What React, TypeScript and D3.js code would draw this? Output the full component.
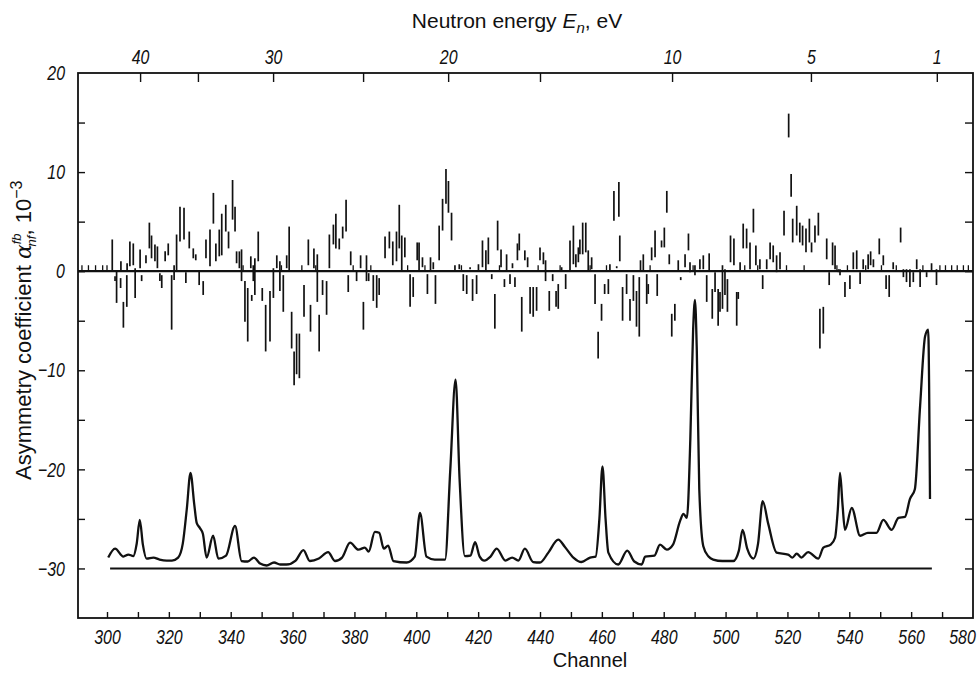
import React, { useEffect, useRef } from 'react';
import * as d3 from 'd3';

// asymmetry error bars: channel, low, high (units of 10^-3)
const asymmetryBars: [number, number, number][] = [
  [301.7, 0, 3.2], [302.6, -1.0, -0.5], [303.1, -3.2, 0], [304.4, -1.7, -0.7], [304.5, 0.1, 1.0],
  [305.3, -5.7, -3.1], [306.4, -3.6, -0.4], [306.5, 0.1, 0.8], [307.4, 0.5, 3.0], [308.5, 0.6, 2.8],
  [309.1, -2.7, 0.3], [310.7, 0.3, 2.2], [311.2, -1.0, -0.4], [312.6, 0.8, 1.6], [313.7, 2.3, 4.9],
  [314.4, 1.3, 3.6], [315.5, 1.0, 2.7], [316.3, 0.3, 2.5], [317.1, -1.0, -0.2], [317.7, -1.7, -0.4],
  [318.8, 1.0, 2.0], [319.8, 1.6, 2.8], [320.9, -5.9, -0.4], [321.7, -0.9, 0.6], [322.5, 0, 3.7],
  [323.6, 3.0, 6.5], [324.9, 3.2, 6.4], [325.5, -1.2, -0.1], [326.6, 2.3, 4.0], [327.9, 1.3, 2.3],
  [328.7, 1.1, 1.7], [329.8, -1.4, 0], [331.1, -2.4, -1.0], [332.0, 1.3, 3.2], [333.3, 0.5, 4.2],
  [334.4, 4.8, 7.9], [335.2, 1.0, 2.8], [336.3, 1.5, 4.2], [337.1, 1.6, 5.8], [338.4, 4.0, 6.7],
  [339.3, 2.3, 4.0], [340.6, 5.2, 9.2], [341.4, 4.0, 6.5], [341.9, 0.8, 2.0], [342.8, 0.3, 2.0],
  [343.5, -1.0, 2.2], [344.6, -5.1, -1.0], [345.5, -7.1, -1.7], [346.5, 0.3, 1.5], [346.8, -3.0, -2.4],
  [347.3, -1.0, 0.6], [347.8, -2.4, 1.3], [348.9, 1.0, 4.0], [350.2, -3.0, -1.7], [351.3, -8.1, -3.4],
  [352.7, -7.1, -2.0], [353.8, -2.7, 0.3], [354.9, 0.3, 1.6], [355.9, -2.0, 1.0], [357.0, -4.1, -0.4],
  [358.1, 0.3, 1.6], [358.9, 0, 4.5], [359.7, -7.8, -4.1], [360.5, -11.5, -8.1], [361.3, -10.4, -6.3],
  [362.2, -10.8, -6.3], [363.7, -4.6, -1.4], [365.1, 0.6, 3.2], [365.8, -6.1, -3.4], [366.9, 0.3, 2.3],
  [368.0, -3.1, 1.7], [368.6, -8.1, -4.4], [369.7, -2.4, -0.9], [371.0, -4.4, -1.0], [371.9, 0.3, 3.7],
  [373.2, 2.7, 4.7], [374.0, 2.3, 5.8], [375.1, 2.2, 3.3], [376.2, 3.3, 4.5], [377.3, 4.0, 7.2],
  [378.0, -2.1, -0.4], [378.8, 0.6, 2.0], [380.7, -1.0, 0], [382.0, 0.3, 1.6], [382.9, -5.9, -3.1],
  [383.9, -1.0, 1.6], [384.6, -1.0, -0.2], [386.1, -3.0, -0.4], [387.2, -3.7, -0.4], [388.0, -2.4, -0.7],
  [389.9, 1.3, 3.5], [391.3, 2.3, 4.0], [392.4, 0.6, 3.0], [393.6, 1.0, 4.0], [394.5, 2.3, 6.7],
  [395.3, 0, 3.6], [396.3, 1.4, 3.4], [398.0, -3.6, -0.3], [399.0, -2.6, -0.6], [400.3, 1.1, 2.9],
  [400.9, 0.1, 2.9], [402.0, 0.4, 1.4], [403.6, -2.3, -0.3], [404.6, 0.1, 1.4], [405.5, 0.2, 0.9],
  [406.2, -3.3, -0.4], [407.4, 1.1, 4.6], [408.5, 4.1, 7.3], [409.6, 6.8, 10.3], [410.4, 5.9, 9.1],
  [411.4, 3.1, 5.9], [412.5, 0.1, 0.6], [413.9, 0.2, 0.7], [415.2, -2.0, -0.3], [416.3, -2.3, -0.4],
  [417.4, 0.2, 0.4], [418.2, -3.0, -0.8], [419.5, -2.3, -0.4], [420.1, 0.1, 0.7], [421.4, 0.4, 3.1],
  [422.5, 0.1, 2.1], [423.3, 0.7, 3.4], [424.4, -0.8, -0.3], [425.4, -5.8, -2.3], [426.3, 2.1, 5.1],
  [427.4, 0.4, 2.2], [428.5, -1.6, -0.8], [429.2, 0.1, 1.7], [430.3, -1.3, -0.3], [431.1, 0.3, 0.8],
  [431.9, -1.6, -0.6], [432.7, 1.1, 2.8], [433.3, 2.1, 3.8], [434.1, -6.1, -2.6], [435.1, 1.1, 2.1],
  [436.0, 0.4, 1.4], [436.8, -4.3, -1.6], [437.8, -4.6, -1.6], [438.9, -4.0, -1.6], [440.0, 1.1, 2.4],
  [441.1, 0.7, 1.9], [441.8, -1.0, 1.1], [443.0, -4.0, -2.0], [444.1, -1.0, -0.3], [445.2, -3.6, -2.0],
  [445.9, -3.8, -1.3], [447.0, 0.1, 0.4], [448.3, -1.8, -0.3], [449.7, 0, 3.1], [450.8, 0.7, 4.6],
  [451.6, 0.4, 1.7], [452.4, 0.9, 2.4], [452.9, 1.7, 3.2], [453.8, 1.7, 4.9], [454.8, 1.9, 4.9],
  [455.6, 0.1, 2.1], [456.7, 0.2, 1.4], [457.8, -3.3, -0.3], [458.8, -8.8, -6.1], [459.9, -5.0, -3.3],
  [460.9, -2.3, -1.3], [462.1, -2.3, -0.8], [462.6, 0.1, 0.7], [463.9, 5.1, 8.1], [464.8, 0.3, 0.5],
  [465.5, 5.5, 9.0], [465.8, 1.0, 3.6], [466.7, -5.0, -1.6], [468.0, -2.3, -0.3], [469.1, -5.0, -2.8],
  [470.2, -3.0, -0.4], [471.2, -5.6, -2.0], [472.1, -6.6, -0.6], [472.5, 0.1, 1.1], [473.4, 0.1, 1.7],
  [474.5, -3.3, -0.3], [475.0, -2.3, -1.3], [476.1, 1.1, 2.4], [477.2, 1.4, 4.1], [477.9, -2.5, -0.3],
  [479.3, 2.4, 3.1], [480.2, 2.4, 4.4], [481.0, 5.9, 8.1], [481.8, 0.7, 1.7], [482.6, -6.6, -4.3],
  [483.6, -5.0, -3.3], [484.7, 0.1, 1.1], [485.5, -0.9, -0.6], [486.9, 0.4, 1.7], [488.0, 2.1, 3.8],
  [488.5, -0.1, 0.9], [490.1, -0.4, 0.6], [491.7, 0.2, 1.2], [492.8, 0.2, 1.6], [493.9, -3.1, -0.4],
  [494.7, 0.1, 1.8], [495.7, -4.8, -1.8], [496.6, -2.1, -0.1], [497.6, -5.5, -1.8], [498.2, -4.1, -2.1],
  [499.0, -3.8, 0.6], [499.8, -2.4, 0.2], [500.6, -4.1, -0.8], [501.6, 0.9, 3.6], [502.7, 0.6, 3.3],
  [503.6, -5.5, -2.1], [504.1, -2.8, -2.1], [504.7, 0.1, 0.9], [505.7, 2.3, 4.8], [506.8, 2.3, 4.3],
  [507.9, 0.2, 2.9], [509.0, 3.9, 6.3], [509.8, 0.6, 2.6], [511.1, 0.2, 1.2], [512.0, -1.8, -0.4],
  [513.3, 0.2, 1.2], [514.4, 1.2, 2.9], [515.4, 0.9, 2.6], [516.5, -0.1, 1.6], [517.6, 0.2, 1.9],
  [518.9, 3.6, 6.1], [520.4, 13.5, 15.9], [521.2, 7.5, 9.8], [521.7, 2.9, 5.3], [523.0, 3.6, 6.6],
  [524.0, 2.9, 4.9], [524.9, 2.6, 4.6], [526.0, 1.9, 4.3], [527.1, 2.9, 5.3], [527.8, 1.9, 2.9],
  [528.9, 2.9, 4.6], [530.0, 3.6, 5.9], [530.5, -7.8, -3.8], [531.6, -6.3, -3.6], [532.7, 1.2, 3.3],
  [533.5, -1.4, -0.1], [534.6, 0.6, 2.9], [535.4, 0.2, 2.6], [536.5, -0.1, 0.2], [537.0, -0.4, 0.2],
  [538.6, -2.6, -1.1], [540.2, -1.8, -0.4], [541.3, 0.2, 1.9], [542.4, 0.2, 2.1], [543.5, -1.3, -0.1],
  [544.5, 0.2, 1.2], [546.1, 0.2, 1.7], [546.9, 0.6, 2.0], [547.8, 0.4, 1.2], [549.7, 1.7, 3.3],
  [551.0, 0.6, 1.6], [551.9, -1.8, -0.4], [552.9, -2.6, -0.4], [554.2, 0.2, 0.9], [556.6, 2.9, 4.4],
  [557.5, -0.6, 0.2], [558.5, -1.1, 0.2], [559.6, -1.6, 0.2], [560.7, -1.1, -0.1], [561.8, 0.2, 1.2],
  [562.9, -1.6, 0.2], [565.0, -0.6, -0.1], [566.6, 0.1, 0.8], [568.2, -1.4, 0.2],
];

// channels with only a tiny bar sitting on the zero line
const quietChannels = [
  291.9, 294.0, 296.3, 298.6, 300.0, 344.0, 356.4, 363.0, 367.5, 379.6, 385.3, 397.2, 402.8, 414.6,
  426.9, 439.4, 446.5, 456.2, 461.5, 475.6, 489.5, 506.2, 510.4, 519.7, 525.4, 536.0, 539.4, 545.3,
  550.4, 555.2, 563.8, 569.3, 571.1, 573.1, 574.9, 576.9, 578.5,
];

// count-rate spectrum drawn underneath (same y units)
const spectrumChannels = [
  300.4, 302.6, 305.3, 306.9, 308.5, 309.6, 310.6, 311.6, 312.8, 315, 317, 319.3, 321, 323, 324.5,
  325.8, 327.0, 328.2, 329, 330, 331, 332.2, 334.3, 336, 338.5, 341.4, 343.5, 345.5, 347.5, 349.5,
  351.6, 354, 356, 358, 361, 363.5, 365.6, 368.5, 371.5, 373.7, 376, 378.6, 381.3, 383.4, 384.6,
  386.6, 388, 389.5, 390.9, 392.6, 396.9, 399.5, 401.2, 403.3, 406, 409.3, 411, 412.7, 414, 415.7,
  417.5, 419, 420.5, 422, 424, 426, 428.8, 431, 433, 435.1, 437.8, 440, 442.7, 445.9, 448, 450.8,
  453.4, 456.2, 458, 459.2, 460.2, 461.2, 462.1, 465.3, 468.2, 470.5, 472.9, 474, 477, 478.8, 481,
  483, 485.3, 486.4, 487.5, 488.6, 489.5, 490.1, 490.7, 491.5, 492.8, 494.5, 496, 499, 502.5, 504.3,
  505.5, 507, 509, 510.5, 512, 513.8, 516.5, 520.2, 521.6, 523, 524.5, 526.7, 530, 531.6, 534,
  535.4, 536.3, 537, 537.8, 538.6, 540.8, 543.5, 546, 548.8, 551, 553.7, 555.9, 558, 559.6, 561.2,
  562.9, 564.5, 565.5, 566.1,
];
const spectrumValues = [
  -28.9, -28.0, -28.8, -28.6, -28.75, -27.5, -25.1, -27.6, -29.0, -28.9, -29.1, -29.2, -29.2, -28.9, -27.5,
  -24, -20.35, -23.5, -25.4, -25.9, -26.5, -28.9, -26.7, -29.0, -28.7, -25.7, -29.25, -29.3, -28.9, -29.5,
  -29.7, -29.4, -29.6, -29.6, -29.2, -28.15, -29.25, -29.0, -28.35, -29.25, -28.9, -27.4, -28.1, -27.9, -28.3,
  -26.3, -26.4, -28.0, -27.7, -29.25, -29.4, -28.8, -24.4, -28.8, -29.1, -29.1, -20, -10.95, -21, -28.75,
  -28.7, -27.35, -28.8, -29.2, -28.8, -28.0, -29.2, -28.9, -29.2, -28.0, -29.35, -29.4, -28.4, -27.1, -27.8, -28.9,
  -29.35, -28.9, -28.8, -25, -19.7, -25, -28.4, -29.6, -28.2, -29.3, -29.6, -28.8, -28.7, -27.6, -28.1,
  -27.6, -25.2, -24.5, -24.9, -17, -6, -2.9, -8, -22, -27.75, -28.8, -29.1, -29.25, -29.25, -28.2,
  -26.1, -28.0, -29.0, -27.5, -23.2, -25.5, -28.4, -28.6, -28.9, -28.5, -28.9, -28.35, -29.0, -27.9, -27.6,
  -26.9, -24, -20.35, -23.5, -26.1, -23.9, -26.7, -26.4, -26.4, -25.1, -26.1, -24.9, -24.8, -23.0, -22.0,
  -13.6, -6.6, -5.9, -23.0,
];

// straight reference level under the spectrum
const referenceLevel = -30;
const referenceChannels = [301, 566.7];

// upper axis: neutron energy (eV) and the channel it falls on
const energyValues = [40, 35, 30, 25, 20, 15, 10, 5, 1];
const energyChannels = [310.7, 329.4, 353.7, 382.8, 410.3, 440, 482.7, 527.6, 568.3];
const energyLabels = [40, 30, 20, 10, 5, 1];

const channelLabels = [300, 320, 340, 360, 380, 400, 420, 440, 460, 480, 500, 520, 540, 560, 580];
const asymmetryLabels = [20, 10, 0, -10, -20, -30];

const width = 978;
const height = 676;
const frame = { left: 78, right: 973, top: 73, bottom: 618 };
const tickFont = "'Liberation Sans', Arial, sans-serif";
const titleFont = "'Liberation Sans', Arial, sans-serif";
const ink = '#111';

export default function App() {
  const svgRef = useRef<SVGSVGElement>(null);

  useEffect(() => {
    const svg = d3.select(svgRef.current);
    svg.selectAll('*').remove();

    const x = d3.scaleLinear().domain([300, 580]).range([107, frame.right]);
    const y = d3.scaleLinear().domain([20, -35]).range([frame.top, frame.bottom]);
    const energy = d3.scaleLinear().domain(energyValues).range(energyChannels.map((c) => x(c)));

    const styleAxis = (g) => {
      g.select('.domain').remove();
      g.selectAll('line').attr('stroke', ink).attr('stroke-width', 1.4);
      g.selectAll('text')
        .attr('fill', ink)
        .attr('font-family', tickFont)
        .attr('font-size', 21)
        .attr('font-weight', 300)
        .attr('font-style', 'italic');
    };
    // narrow, drafting-style numerals
    const squeeze = (g, shift = 0) => {
      g.selectAll('text').each(function () {
        const t = d3.select(this);
        const tx = +(t.attr('x') || 0) + shift;
        t.attr('x', null).attr('transform', `translate(${tx},0) scale(0.76,1)`);
      });
    };

    // ticks, all pointing into the frame
    svg.append('g')
      .attr('transform', `translate(0,${frame.bottom})`)
      .call(d3.axisBottom(x).tickValues(d3.range(300, 580, 10)).tickSizeInner(-6).tickSizeOuter(0).tickFormat(() => ''))
      .call(styleAxis);
    const bottomLabels = svg.append('g')
      .attr('transform', `translate(0,${frame.bottom})`)
      .call(d3.axisBottom(x).tickValues(channelLabels).tickSize(0).tickPadding(11))
      .call(styleAxis)
      .call((g) => squeeze(g));
    bottomLabels.selectAll('.tick')
      .filter((d) => d === 580)
      .select('text')
      .attr('transform', 'translate(-11,0) scale(0.76,1)');

    svg.append('g')
      .attr('transform', `translate(0,${frame.top})`)
      .call(d3.axisTop(energy).tickValues(energyValues).tickSizeInner(-9).tickSizeOuter(0).tickFormat(() => ''))
      .call(styleAxis);
    svg.append('g')
      .attr('transform', `translate(0,${frame.top})`)
      .call(d3.axisTop(energy).tickValues(energyLabels).tickSize(0).tickPadding(9))
      .call(styleAxis)
      .call((g) => squeeze(g));

    const yTicks = d3.range(-30, 20, 5);
    svg.append('g')
      .attr('transform', `translate(${frame.left},0)`)
      .call(d3.axisLeft(y).tickValues(yTicks).tickSizeInner(-7).tickSizeOuter(0).tickFormat(() => ''))
      .call(styleAxis);
    svg.append('g')
      .attr('transform', `translate(${frame.left},0)`)
      .call(d3.axisLeft(y).tickValues(asymmetryLabels).tickSize(0).tickFormat((d) => String(d).replace('-', '\u2212')))
      .call(styleAxis)
      .call((g) => squeeze(g, -10));
    svg.append('g')
      .attr('transform', `translate(${frame.right},0)`)
      .call(d3.axisRight(y).tickValues(yTicks).tickSizeInner(-8).tickSizeOuter(0).tickFormat(() => ''))
      .call(styleAxis);

    // frame
    svg.append('rect')
      .attr('x', frame.left)
      .attr('y', frame.top)
      .attr('width', frame.right - frame.left)
      .attr('height', frame.bottom - frame.top)
      .attr('fill', 'none')
      .attr('stroke', ink)
      .attr('stroke-width', 1.8);

    // zero line
    svg.append('line')
      .attr('x1', frame.left)
      .attr('x2', frame.right)
      .attr('y1', y(0))
      .attr('y2', y(0))
      .attr('stroke', ink)
      .attr('stroke-width', 2.2);

    // asymmetry error bars
    svg.append('g')
      .selectAll('line')
      .data(asymmetryBars)
      .join('line')
      .attr('x1', (d) => x(d[0]))
      .attr('x2', (d) => x(d[0]))
      .attr('y1', (d) => y(d[1]))
      .attr('y2', (d) => y(d[2]))
      .attr('stroke', ink)
      .attr('stroke-width', 1.7);

    svg.append('g')
      .selectAll('line')
      .data(quietChannels)
      .join('line')
      .attr('x1', (d) => x(d))
      .attr('x2', (d) => x(d))
      .attr('y1', y(0))
      .attr('y2', y(0.6))
      .attr('stroke', ink)
      .attr('stroke-width', 1.3);

    // reference level
    svg.append('line')
      .attr('x1', x(referenceChannels[0]))
      .attr('x2', x(referenceChannels[1]))
      .attr('y1', y(referenceLevel))
      .attr('y2', y(referenceLevel))
      .attr('stroke', ink)
      .attr('stroke-width', 2);

    // spectrum
    const spectrum = spectrumChannels.map((c, i) => [c, spectrumValues[i]]);
    const line = d3.line()
      .x((d) => x(d[0]))
      .y((d) => y(d[1]))
      .curve(d3.curveMonotoneX);
    svg.append('path')
      .datum(spectrum)
      .attr('d', line)
      .attr('fill', 'none')
      .attr('stroke', ink)
      .attr('stroke-width', 2.3)
      .attr('stroke-linejoin', 'round');

    // titles
    const top = svg.append('text')
      .attr('x', 517)
      .attr('y', 28)
      .attr('text-anchor', 'middle')
      .attr('font-family', titleFont)
      .attr('font-size', 21)
      .attr('fill', ink);
    top.append('tspan').text('Neutron energy ');
    top.append('tspan').attr('font-style', 'italic').text('E');
    top.append('tspan').attr('font-style', 'italic').attr('font-size', 15).attr('dy', 5).text('n');
    top.append('tspan').attr('dy', -5).text(', eV');

    svg.append('text')
      .attr('x', 590)
      .attr('y', 667)
      .attr('text-anchor', 'middle')
      .attr('font-family', titleFont)
      .attr('font-size', 20)
      .attr('fill', ink)
      .text('Channel');

    const side = svg.append('text')
      .attr('transform', 'translate(31,480) rotate(-90)')
      .attr('font-family', titleFont)
      .attr('font-size', 22)
      .attr('fill', ink);
    side.append('tspan').text('Asymmetry coefficient ');
    side.append('tspan').attr('font-style', 'italic').attr('font-family', "'DejaVu Serif', serif").text('\u03b1');
    side.append('tspan').attr('font-style', 'italic').attr('font-size', 13).attr('dy', -10).text('fb');
    side.append('tspan').attr('font-style', 'italic').attr('font-size', 13).attr('dx', -13).attr('dy', 15).text('nf');
    side.append('tspan').attr('dy', -5).text(',  10');
    side.append('tspan').attr('font-size', 16).attr('dy', -9).text('\u22123');
  }, []);

  return (
    <svg
      ref={svgRef}
      width={width}
      height={height}
      style={{ position: 'absolute', left: 0, top: 0, background: '#fff' }}
    />
  );
}
